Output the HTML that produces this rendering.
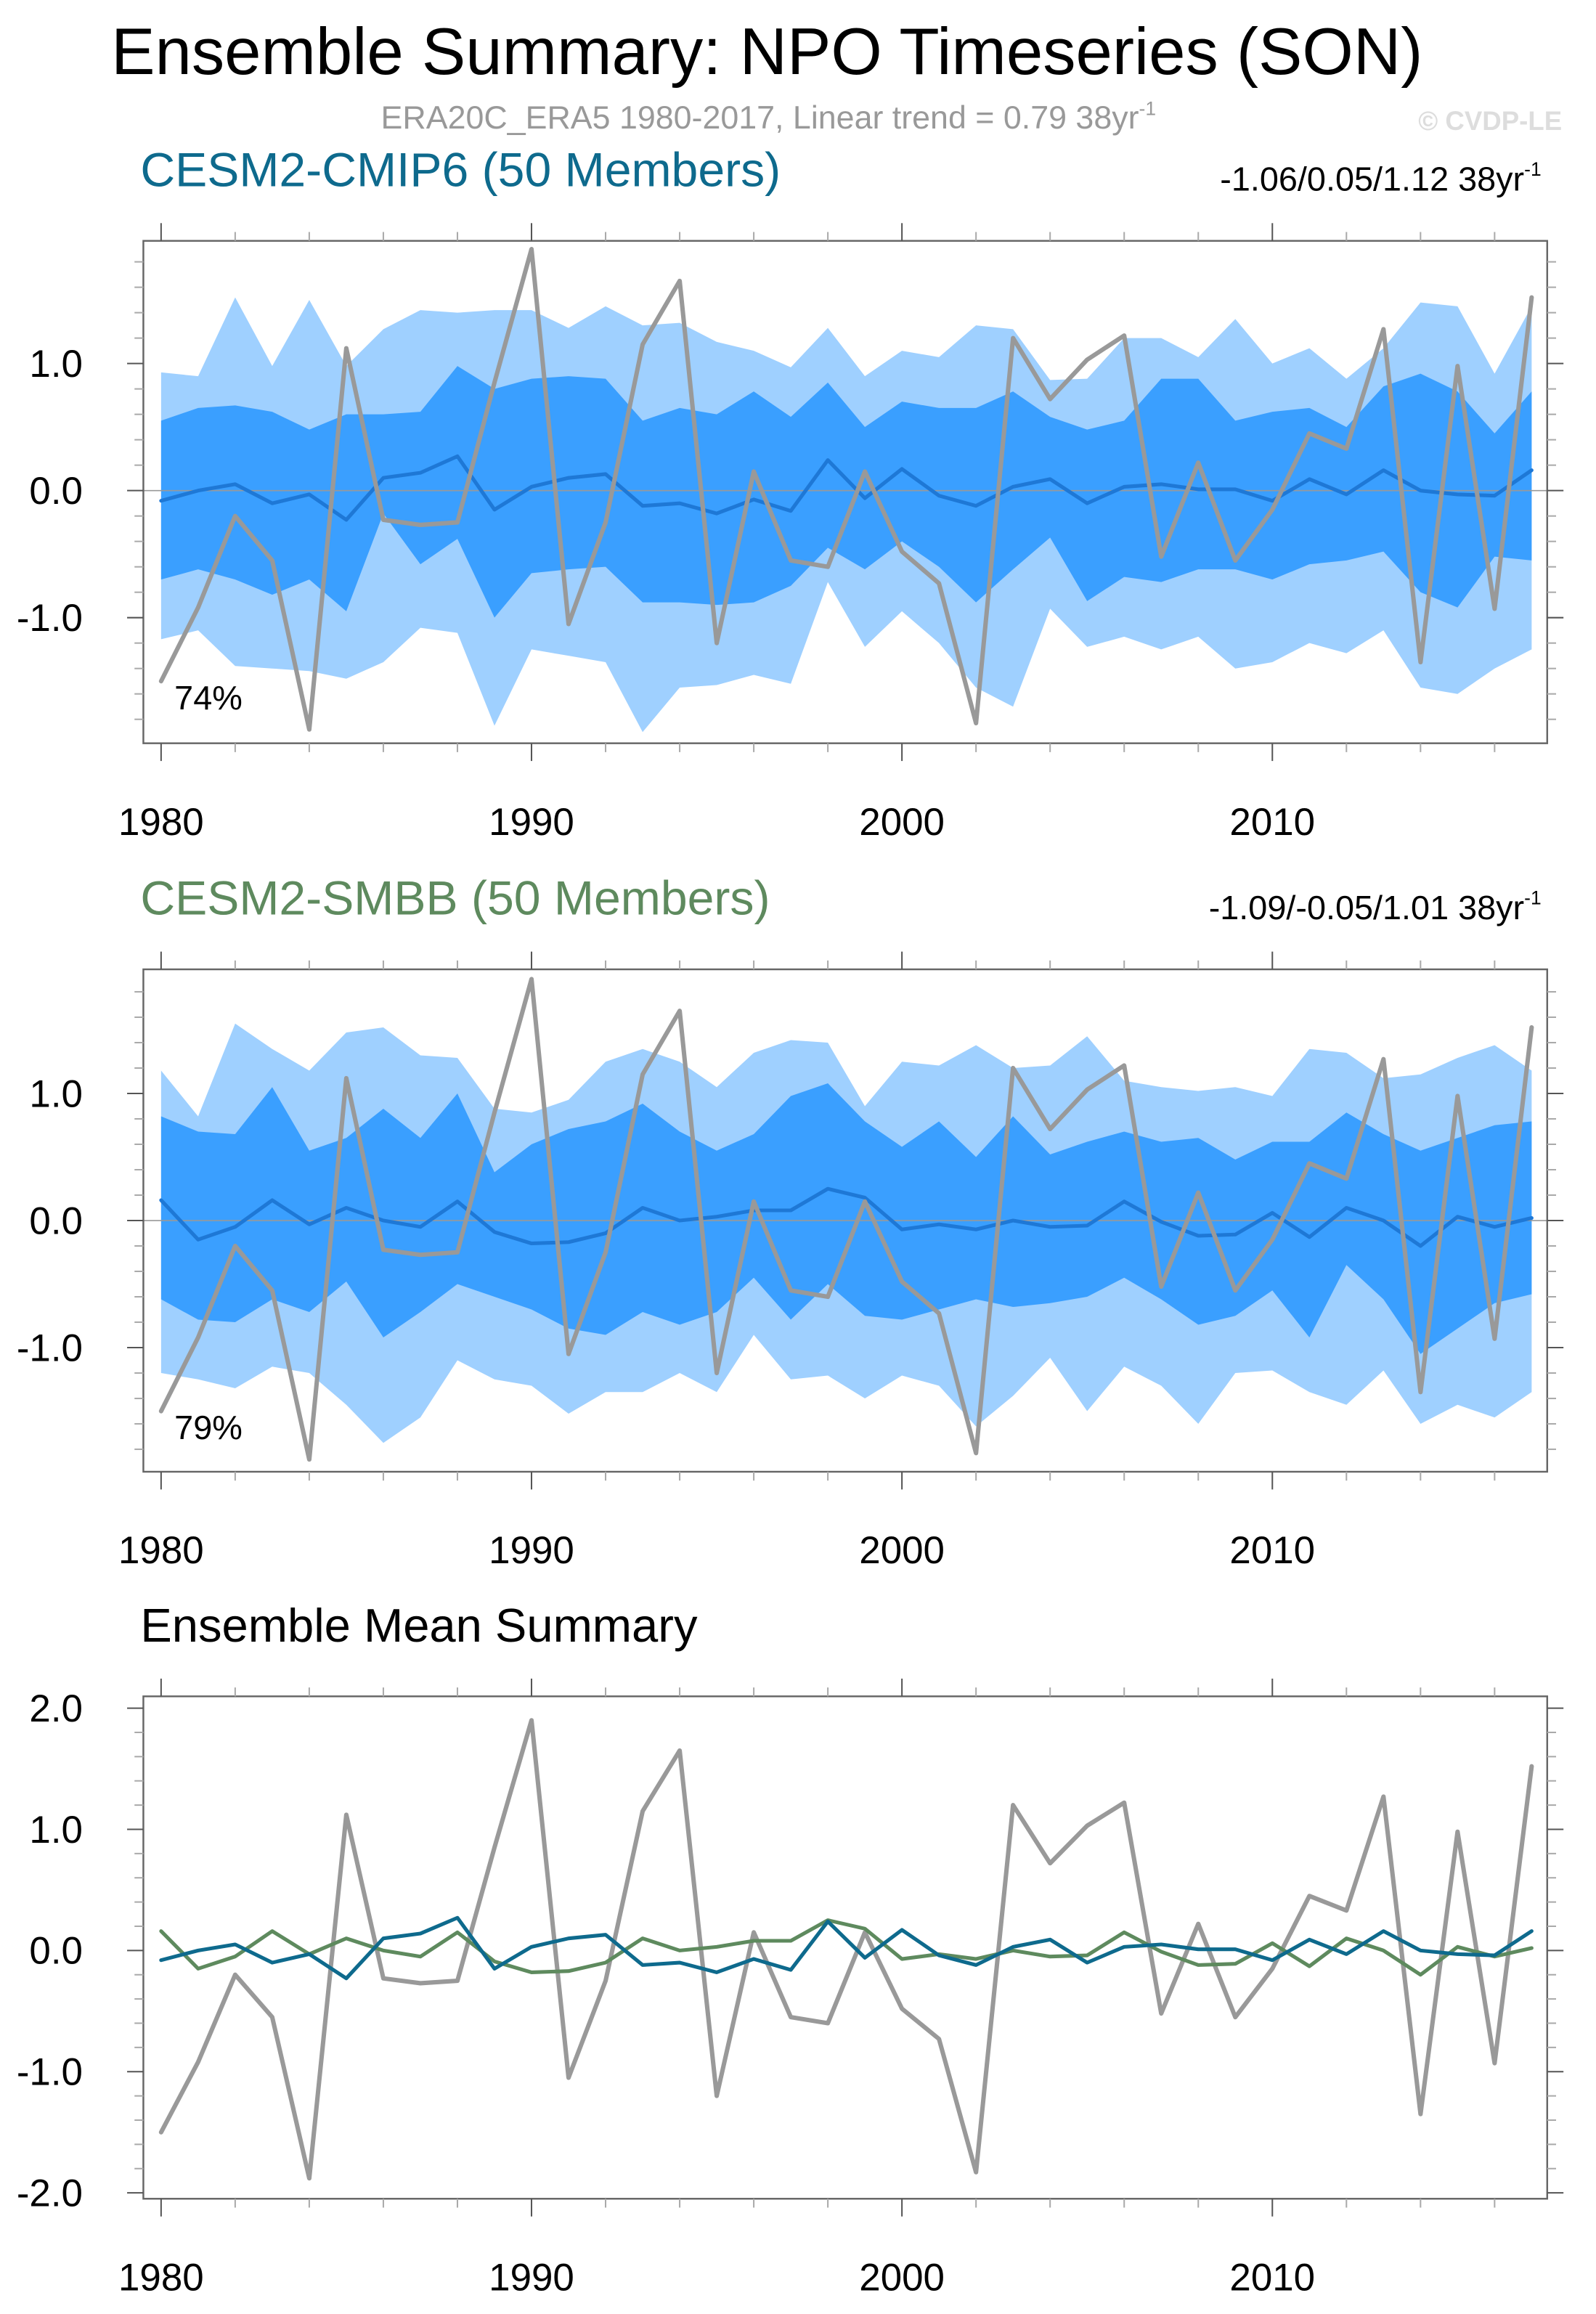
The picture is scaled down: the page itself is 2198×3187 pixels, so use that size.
<!DOCTYPE html>
<html><head><meta charset="utf-8"><style>
html,body{margin:0;padding:0;background:#fff;}
svg{display:block;font-family:"Liberation Sans",sans-serif;}
</style></head><body>
<svg id="chart" width="2198" height="3187" viewBox="0 0 1080 1566" xmlns="http://www.w3.org/2000/svg">
<text x="519" y="50" font-size="44.5" text-anchor="middle" fill="#000">Ensemble Summary: NPO Timeseries (SON)</text>
<text x="520" y="87" font-size="22" text-anchor="middle" fill="#999">ERA20C_ERA5 1980-2017, Linear trend = 0.79 38yr<tspan dy="-9" font-size="13">-1</tspan></text>
<text x="1057" y="88" font-size="18" font-weight="bold" text-anchor="end" fill="#ddd">© CVDP-LE</text>
<text x="95" y="126" font-size="32.5" fill="#0e6a8d">CESM2-CMIP6 (50 Members)</text>
<text x="1043" y="129" font-size="23" text-anchor="end" fill="#000">-1.06/0.05/1.12 38yr<tspan dy="-10" font-size="13">-1</tspan></text>
<text x="95" y="619" font-size="32.5" fill="#5e8a5e">CESM2-SMBB (50 Members)</text>
<text x="1043" y="622" font-size="23" text-anchor="end" fill="#000">-1.09/-0.05/1.01 38yr<tspan dy="-10" font-size="13">-1</tspan></text>
<text x="95" y="1111" font-size="32" fill="#000">Ensemble Mean Summary</text>
<g id="plots"></g>
</svg>
<script>
const years = Array.from({length:38},(_,i)=>1980+i);
const obs = [-1.5,-0.92,-0.2,-0.55,-1.88,1.12,-0.23,-0.27,-0.25,0.85,1.9,-1.05,-0.25,1.15,1.65,-1.2,0.15,-0.55,-0.6,0.15,-0.48,-0.73,-1.83,1.2,0.72,1.03,1.22,-0.52,0.22,-0.55,-0.15,0.45,0.33,1.27,-1.35,0.98,-0.93,1.52];
const cmipMean = [-0.08,0.0,0.05,-0.1,-0.03,-0.23,0.1,0.14,0.27,-0.15,0.03,0.1,0.13,-0.12,-0.1,-0.18,-0.07,-0.16,0.24,-0.06,0.17,-0.04,-0.12,0.03,0.09,-0.1,0.03,0.05,0.01,0.01,-0.08,0.09,-0.03,0.16,0.0,-0.03,-0.04,0.16];
const cmipOuterHi = [0.93,0.9,1.52,0.98,1.5,0.98,1.27,1.42,1.4,1.42,1.42,1.28,1.45,1.3,1.32,1.17,1.1,0.97,1.28,0.9,1.1,1.05,1.3,1.27,0.87,0.88,1.2,1.2,1.05,1.35,1.0,1.12,0.88,1.12,1.48,1.45,0.92,1.45];
const cmipOuterLo = [-1.17,-1.1,-1.38,-1.4,-1.42,-1.48,-1.35,-1.08,-1.12,-1.85,-1.25,-1.3,-1.35,-1.9,-1.55,-1.53,-1.45,-1.52,-0.72,-1.23,-0.95,-1.2,-1.55,-1.7,-0.93,-1.23,-1.15,-1.25,-1.15,-1.4,-1.35,-1.2,-1.28,-1.1,-1.55,-1.6,-1.4,-1.25];
const cmipInnerHi = [0.55,0.65,0.67,0.62,0.48,0.6,0.6,0.62,0.98,0.8,0.88,0.9,0.88,0.55,0.65,0.6,0.78,0.58,0.85,0.5,0.7,0.65,0.65,0.78,0.58,0.48,0.55,0.88,0.88,0.55,0.62,0.65,0.5,0.82,0.92,0.78,0.45,0.78];
const cmipInnerLo = [-0.7,-0.62,-0.7,-0.82,-0.7,-0.95,-0.18,-0.58,-0.38,-1.0,-0.65,-0.62,-0.6,-0.88,-0.88,-0.9,-0.88,-0.75,-0.45,-0.62,-0.4,-0.6,-0.88,-0.62,-0.37,-0.87,-0.68,-0.72,-0.62,-0.62,-0.7,-0.58,-0.55,-0.48,-0.8,-0.92,-0.52,-0.55];
const smbbMean = [0.16,-0.15,-0.05,0.16,-0.03,0.1,0.0,-0.05,0.15,-0.09,-0.18,-0.17,-0.1,0.1,0.0,0.03,0.08,0.08,0.25,0.18,-0.07,-0.03,-0.07,0.0,-0.05,-0.04,0.15,-0.01,-0.12,-0.11,0.06,-0.13,0.1,0.0,-0.2,0.03,-0.05,0.02];
const smbbOuterHi = [1.18,0.82,1.55,1.35,1.18,1.48,1.52,1.3,1.28,0.88,0.85,0.95,1.25,1.35,1.25,1.05,1.32,1.42,1.4,0.9,1.25,1.22,1.38,1.2,1.22,1.45,1.1,1.05,1.02,1.05,0.98,1.35,1.32,1.12,1.15,1.28,1.38,1.18];
const smbbOuterLo = [-1.2,-1.25,-1.32,-1.15,-1.2,-1.45,-1.75,-1.55,-1.1,-1.25,-1.3,-1.52,-1.35,-1.35,-1.2,-1.35,-0.9,-1.25,-1.22,-1.4,-1.22,-1.3,-1.62,-1.38,-1.08,-1.5,-1.15,-1.3,-1.6,-1.2,-1.18,-1.35,-1.45,-1.18,-1.6,-1.45,-1.55,-1.35];
const smbbInnerHi = [0.82,0.7,0.68,1.05,0.55,0.65,0.88,0.65,1.0,0.38,0.6,0.72,0.78,0.92,0.7,0.55,0.68,0.98,1.08,0.78,0.58,0.78,0.5,0.82,0.52,0.62,0.7,0.62,0.65,0.48,0.62,0.62,0.85,0.68,0.55,0.65,0.75,0.78];
const smbbInnerLo = [-0.62,-0.78,-0.8,-0.62,-0.72,-0.48,-0.92,-0.72,-0.5,-0.6,-0.7,-0.85,-0.9,-0.72,-0.82,-0.72,-0.45,-0.78,-0.5,-0.75,-0.78,-0.7,-0.62,-0.68,-0.65,-0.6,-0.45,-0.62,-0.82,-0.75,-0.55,-0.92,-0.35,-0.62,-1.05,-0.85,-0.65,-0.58];
const xTickLabels = [1980,1990,2000,2010];
const yTicks12 = [-1.0,0.0,1.0];
const yTicks3 = [-2.0,-1.0,0.0,1.0,2.0];

const NS="http://www.w3.org/2000/svg";
const root=document.getElementById('plots');
function mk(tag,attrs,parent){const e=document.createElementNS(NS,tag);for(const k in attrs)e.setAttribute(k,attrs[k]);(parent||root).appendChild(e);return e;}
const X0=97,X1=1047;
function xs(yr){return 109+(yr-1980)*(861-109)/30;}

function panel(name,top,bot,y0,ppu,ymin,ymax,yt){
  const g=mk('g',{});
  
  
  const ys=v=>y0-v*ppu;
  return {g,ys,top,bot,ymin,ymax,yt};
}
function axes(p){
  const {g,ys,top,bot,ymin,ymax,yt}=p;
  const ax=mk('g',{stroke:'#555','stroke-width':1},g);
  
  
  mk('rect',{x:X0,y:top,width:X1-X0,height:bot-top,fill:'none',stroke:'#666','stroke-width':1.2},ax);
  for(let v=Math.round(ymin*5);v<=Math.round(ymax*5);v++){
    const y=ys(v/5); if(y<top-0.5||y>bot+0.5)continue;
    const major=v%5===0; const L=major?11:6;
    mk('line',{x1:X0-L,x2:X0,y1:y,y2:y,stroke:major?'#555':'#aaa'},ax);
    mk('line',{x1:X1,x2:X1+L,y1:y,y2:y,stroke:major?'#555':'#aaa'},ax);
  }
  for(let yr=1980;yr<=2018;yr+=2){
    const x=xs(yr); if(x>X1)continue;
    const major=(yr%10===0); const L=major?12:6;
    mk('line',{x1:x,x2:x,y1:bot,y2:bot+L,stroke:major?'#555':'#aaa'},ax);
    mk('line',{x1:x,x2:x,y1:top-L,y2:top,stroke:major?'#555':'#aaa'},ax);
  }
  xTickLabels.forEach(yr=>{
    const t=mk('text',{x:xs(yr),y:bot+62,'font-size':26,'text-anchor':'middle',fill:'#000'},g);
    
    
    t.textContent=yr;
  });
  yt.forEach(v=>{
    const t=mk('text',{x:56,y:ys(v)+9,'font-size':26,'text-anchor':'end',fill:'#000'},g);
    
    
    t.textContent=v.toFixed(1);
  });
}
function line(p,arr,color,w,name){
  const pts=arr.map((v,i)=>xs(years[i]).toFixed(2)+','+p.ys(v).toFixed(2)).join(' ');
  const e=mk('polyline',{points:pts,fill:'none',stroke:color,'stroke-width':w,'stroke-linejoin':'round','stroke-linecap':'round'},p.g);
  
  
}
function band(p,hi,lo,color,name){
  const a=hi.map((v,i)=>xs(years[i]).toFixed(2)+','+p.ys(v).toFixed(2));
  const b=lo.map((v,i)=>xs(years[i]).toFixed(2)+','+p.ys(v).toFixed(2)).reverse();
  const e=mk('polygon',{points:a.concat(b).join(' '),fill:color},p.g);
  
  
}
function ensPanel(name,top,bot,y0,oh,ol,ih,il,mean,pct){
  const p=panel(name,top,bot,y0,86,-1.96,1.96,yTicks12);
  band(p,oh,ol,'#9fd0ff','outer-spread-band');
  band(p,ih,il,'#3a9fff','inner-spread-band');
  const z=mk('line',{x1:X0,x2:X1,y1:p.ys(0),y2:p.ys(0),stroke:'#999','stroke-width':0.8},p.g);
  
  
  line(p,mean,'#1e78d6',2.5,'ensemble-mean-line');
  line(p,obs,'#999',3,'observed-line');
  const t=mk('text',{x:118,y:p.ys(-1.5)+19,'font-size':23,fill:'#000'},p.g);
  
  
  t.textContent=pct;
  axes(p);
}
ensPanel('cmip6-panel',163,503,332,cmipOuterHi,cmipOuterLo,cmipInnerHi,cmipInnerLo,cmipMean,'74%');
ensPanel('smbb-panel',656,996,826,smbbOuterHi,smbbOuterLo,smbbInnerHi,smbbInnerLo,smbbMean,'79%');
const p3=panel('ensemble-mean-panel',1148,1488,1320,82,-2.05,2.05,yTicks3);
line(p3,obs,'#999',3,'observed-line');
line(p3,smbbMean,'#5e8a5e',2.5,'smbb-mean-line');
line(p3,cmipMean,'#0e6a8d',2.5,'cmip6-mean-line');
axes(p3);
</script>
</body></html>
